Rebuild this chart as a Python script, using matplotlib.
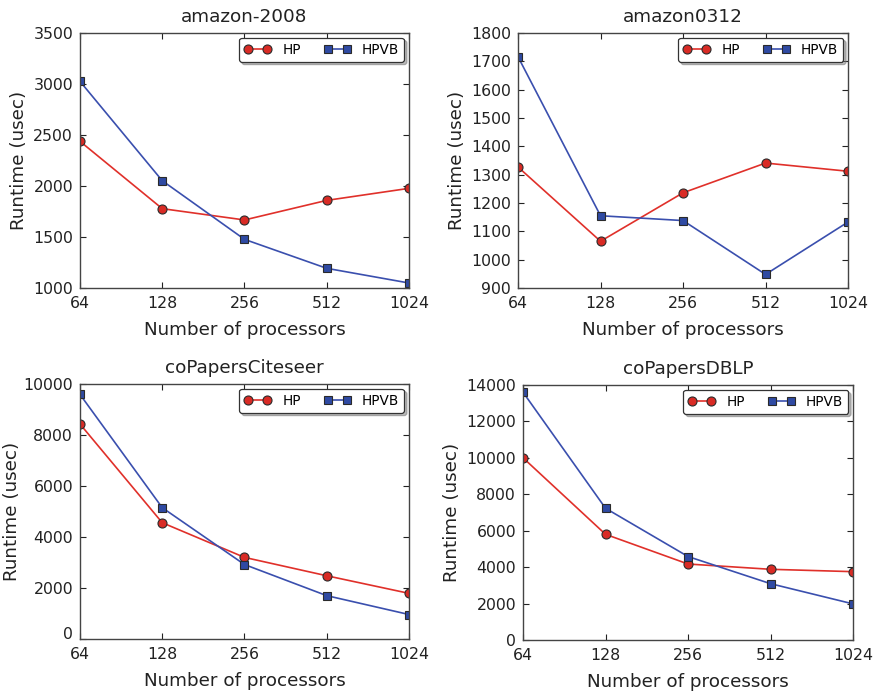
import numpy as np
import matplotlib
matplotlib.use("Agg")
import matplotlib.pyplot as plt
from matplotlib.ticker import FixedLocator, NullLocator
from matplotlib.transforms import ScaledTranslation

procs = [64, 128, 256, 512, 1024]
proc_labels = ["64", "128", "256", "512", "1024"]

titles = ["amazon-2008", "amazon0312", "coPapersCiteseer", "coPapersDBLP"]

hp_amazon2008 = [2438, 1778, 1667, 1859, 1977]
hpvb_amazon2008 = [3026, 2052, 1477, 1193, 1049]

hp_amazon0312 = [1327, 1065, 1236, 1341, 1312]
hpvb_amazon0312 = [1716, 1155, 1138, 948, 1133]

hp_citeseer = [8430, 4560, 3200, 2480, 1790]
hpvb_citeseer = [9590, 5150, 2920, 1700, 960]

hp_dblp = [10000, 5800, 4170, 3880, 3750]
hpvb_dblp = [13600, 7230, 4580, 3090, 1980]

hp_series = [hp_amazon2008, hp_amazon0312, hp_citeseer, hp_dblp]
hpvb_series = [hpvb_amazon2008, hpvb_amazon0312, hpvb_citeseer, hpvb_dblp]

y_limits = [(1000, 3500), (900, 1800), (0, 10000), (0, 14000)]
y_steps = [500, 100, 2000, 2000]

# axes rectangles in figure fractions (left, bottom, width, height)
positions = [
    (0.0911, 0.5862, 0.3747, 0.3664),
    (0.5900, 0.5862, 0.3759, 0.3664),
    (0.0911, 0.0819, 0.3747, 0.3664),
    (0.5957, 0.0805, 0.3759, 0.3664),
]
ylabel_pads = [4, 4, 1.5, 4]

red = "#e0302a"
blue = "#3a4fae"
edge = "#2a2a2a"
txt = "#222222"

plt.rcParams["font.family"] = "DejaVu Sans"

fig = plt.figure(figsize=(8.78, 6.96), dpi=100)

for k in range(4):
    ax = fig.add_axes(positions[k])
    ax.plot(procs, hp_series[k], color=red, linewidth=1.2, marker="o",
            markersize=6.5, markerfacecolor="#d92b25", markeredgecolor=edge,
            markeredgewidth=0.8, label="HP")
    ax.plot(procs, hpvb_series[k], color=blue, linewidth=1.2, marker="s",
            markersize=6.0, markerfacecolor="#2f4aa3", markeredgecolor=edge,
            markeredgewidth=0.8, label="HPVB")

    ax.set_xscale("log", base=2)
    ax.set_xlim(64, 1024)
    ax.xaxis.set_major_locator(FixedLocator(procs))
    ax.xaxis.set_minor_locator(NullLocator())
    ax.set_xticklabels(proc_labels)

    lo, hi = y_limits[k]
    ax.set_ylim(lo, hi)
    ax.set_yticks(np.arange(lo, hi + 1, y_steps[k]))

    ax.tick_params(direction="in", length=4, width=0.8, top=True, right=True,
                   labelsize=11.3, colors=txt)
    ax.tick_params(axis="x", pad=6)
    ax.tick_params(axis="y", pad=5)
    for s in ax.spines.values():
        s.set_color("#444444")
        s.set_linewidth(1.0)

    ax.set_title(titles[k], fontsize=13.2, color=txt, pad=8)
    ax.set_xlabel("Number of processors", fontsize=13.2, color=txt, labelpad=7)
    ax.set_ylabel("Runtime (usec)", fontsize=13.2, color=txt, labelpad=ylabel_pads[k])

    leg = ax.legend(loc="upper right", ncol=2, numpoints=2, fontsize=9.8,
                    fancybox=True, shadow={"color": "0.45", "alpha": 0.5},
                    framealpha=1, edgecolor="#333333",
                    handlelength=2.0, columnspacing=1.7, borderpad=0.37,
                    handletextpad=0.8, borderaxespad=0.35)
    leg.get_frame().set_linewidth(0.9)

# in the coPapersCiteseer panel the "0" label sits a little above its tick
fig.canvas.draw()
zero_tick = fig.axes[2].yaxis.get_major_ticks()[0]
zero_tick.label1.set_transform(
    zero_tick.label1.get_transform() + ScaledTranslation(0, 6 / 100, fig.dpi_scale_trans))

fig.savefig("out.png", dpi=100)
